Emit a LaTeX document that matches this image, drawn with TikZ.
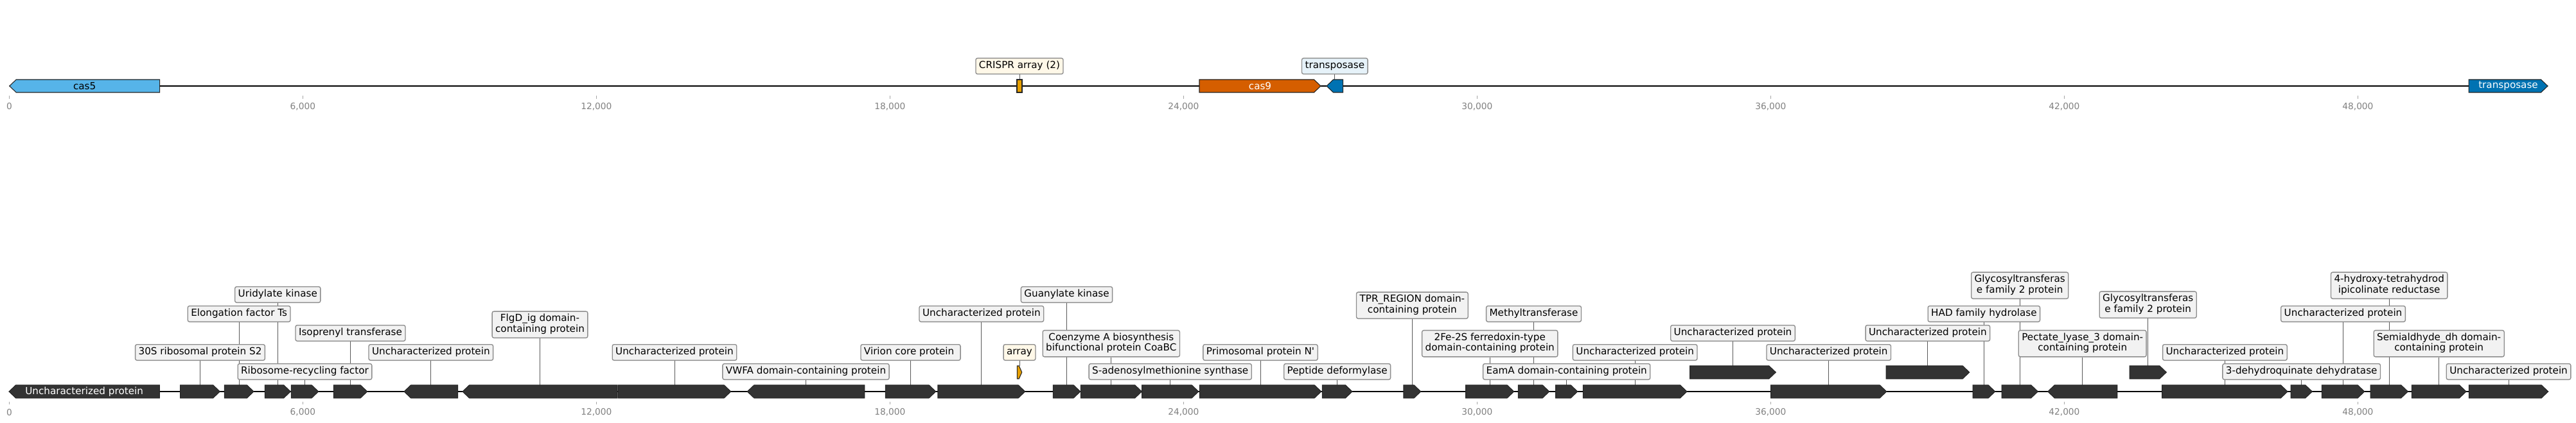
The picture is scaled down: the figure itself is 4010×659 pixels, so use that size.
\documentclass[tikz,border=0pt]{standalone}
\usepackage{fontspec}
\setmainfont{DejaVu Sans}
\usetikzlibrary{positioning}
\pgfdeclarelayer{bg}
\pgfsetlayers{bg,main}

\definecolor{genegray}{HTML}{333333}
\definecolor{boxgray}{HTML}{F2F2F2}
\definecolor{edgegray}{HTML}{8C8C8C}
\definecolor{casblue}{HTML}{56B4E9}
\definecolor{casred}{HTML}{D55E00}
\definecolor{tnpblue}{HTML}{0072B2}
\definecolor{crisprorange}{HTML}{E69F00}
\definecolor{crisprbox}{HTML}{FFF8E8}
\definecolor{tnpbox}{HTML}{E6F2F9}

% genes: [style] name, start, end, y
\newcommand{\fwdgene}[5][]{%
  \pgfmathsetmacro\tiplen{min(10.5,0.6*(#4-#3))}%
  \draw[gene path,#1] (#3,#5-10) -- (#4-\tiplen,#5-10) -- (#4,#5) -- (#4-\tiplen,#5+10) -- (#3,#5+10) -- cycle;
  \coordinate (#2) at ({(#3+#4)/2},#5-10);}
\newcommand{\revgene}[5][]{%
  \pgfmathsetmacro\tiplen{min(10.5,0.6*(#4-#3))}%
  \draw[gene path,#1] (#4,#5-10) -- (#3+\tiplen,#5-10) -- (#3,#5) -- (#3+\tiplen,#5+10) -- (#4,#5+10) -- cycle;
  \coordinate (#2) at ({(#3+#4)/2},#5-10);}

\begin{document}
\begin{tikzpicture}[x=0.75pt,y=-0.75pt,
  gene path/.style={fill=genegray,draw=black!85,line width=0.8pt},
  tag node/.style={draw=edgegray,fill=boxgray,rounded corners=2pt,line width=1pt,inner xsep=3.75pt,inner ysep=3pt,
    font=\fontsize{11.4}{12.5}\selectfont,execute at begin node=\strut,execute at end node=\strut},
  gene text/.style={font=\fontsize{11.4}{12.5}\selectfont,inner sep=0pt},
  leader line/.style={draw=black!65,line width=0.75pt},
  track/.style={line width=1.9pt},
  tick/.style={draw=black!35,line width=0.6pt},
  axis label/.style={text=black!50,font=\fontsize{10.3}{12}\selectfont,inner sep=0pt}]

 \useasboundingbox (0,0) rectangle (4010,659);

 \coordinate (a0) at (14.5,134);
 \coordinate (a1) at (3966,134);
 \coordinate (b0) at (14,610);
 \coordinate (b1) at (3966.7,610);
 \draw[track] (a0) -- (a1);
 \draw[track] (b0) -- (b1);

 \foreach \k/\lab in {0/0,1/{6,000},2/{12,000},3/{18,000},4/{24,000},5/{30,000},6/{36,000},7/{42,000},8/{48,000}} {
   \draw[tick] (14.4+457*\k,149.5) -- (14.4+457*\k,154);
   \node[axis label] (ta\k) at (14.4+457*\k,166) {\lab};
   \draw[tick] (14.4+457*\k,625.5) -- (14.4+457*\k,630);
   \node[axis label] (ba\k) at (14.4+457*\k,642) {\lab};
 }

 % top track
 \revgene[fill=casblue]{c1}{14.7}{248.7}{134}
 \draw[gene path,fill=crisprorange] (1583,124) rectangle (1591,144);
 \coordinate (c2) at (1587,124);
 \fwdgene[fill=casred]{c3}{1867}{2056}{134}
 \revgene[fill=tnpblue]{c4}{2065}{2090.6}{134}
 \fwdgene[fill=tnpblue]{c5}{3843}{3966}{134}
 \node[gene text] (n1) at (131.7,134) {cas5};
 \node[gene text,text=white] (n3) at (1961.5,134) {cas9};
 \node[gene text,text=white] (n5) at (3904.5,134) {transposase};
 \node[tag node,fill=crisprbox,above=6pt of c2] (tc2) {CRISPR array (2)};
 \node[tag node,fill=tnpbox,above=6pt of c4] (tc4) {transposase};

 % bottom track
 \revgene{g1}{14}{248.3}{610}
 \fwdgene{g2}{280.7}{342.3}{610}
 \fwdgene{g3}{349.3}{395}{610}
 \fwdgene{g4}{412.3}{452.3}{610}
 \fwdgene{g5}{453.3}{495.7}{610}
 \fwdgene{g6}{519.3}{571.7}{610}
 \revgene{g7}{629}{712.7}{610}
 \revgene{g8}{720}{961}{610}
 \fwdgene{g9}{962.3}{1137.7}{610}
 \revgene{g10}{1163.3}{1345.7}{610}
 \fwdgene{g11}{1378.3}{1456.7}{610}
 \fwdgene{g12}{1460}{1595.7}{610}
 \fwdgene[fill=crisprorange]{g13}{1583.3}{1590.7}{580}
 \fwdgene{g14}{1639.3}{1681.7}{610}
 \fwdgene{g15}{1682.3}{1777.3}{610}
 \fwdgene{g16}{1777.7}{1865.7}{610}
 \fwdgene{g17}{1867.3}{2056.7}{610}
 \fwdgene{g18}{2058.3}{2105}{610}
 \fwdgene{g19}{2185}{2211.7}{610}
 \fwdgene{g20}{2281.7}{2356.7}{610}
 \fwdgene{g21}{2363.3}{2411.7}{610}
 \fwdgene{g22}{2421.7}{2455.7}{610}
 \fwdgene{g23}{2464.3}{2626}{610}
 \fwdgene{g24}{2630.7}{2764.3}{580}
 \fwdgene{g25}{2756.7}{2936.7}{610}
 \fwdgene{g26}{2936}{3065.7}{580}
 \fwdgene{g27}{3071}{3105.7}{610}
 \fwdgene{g28}{3116}{3172.3}{610}
 \revgene{g29}{3187.7}{3295.7}{610}
 \fwdgene{g30}{3315}{3372.3}{580}
 \fwdgene{g31}{3365.7}{3561}{610}
 \fwdgene{g32}{3566}{3599.3}{610}
 \fwdgene{g33}{3614.3}{3680.7}{610}
 \fwdgene{g34}{3690}{3748.3}{610}
 \fwdgene{g35}{3754.3}{3839}{610}
 \fwdgene{g36}{3843.3}{3966.7}{610}
 \node[gene text,text=white] (m1) at (131.15,610) {Uncharacterized protein};

 \node[tag node,above=28.5pt of g2] (t2) {30S ribosomal protein S2\ };
 \node[tag node,above=73.5pt of g3] (t3) {Elongation factor Ts\ };
 \node[tag node,above=96pt of g4] (t4) {Uridylate kinase\ };
 \node[tag node,above=6pt of g5] (t5) {Ribosome-recycling factor\ };
 \node[tag node,above=51pt of g6] (t6) {Isoprenyl transferase\ };
 \node[tag node,above=28.5pt of g7] (t7) {Uncharacterized protein\ };
 \node[tag node,align=center,above=54.75pt of g8] (t8) {FlgD\_ig domain-\\containing protein};
 \node[tag node,above=28.5pt of g9] (t9) {Uncharacterized protein\ };
 \node[tag node,above=6pt of g10] (t10) {VWFA domain-containing protein};
 \node[tag node,above=28.5pt of g11] (t11) {Virion core protein\ \ };
 \node[tag node,above=73.5pt of g12] (t12) {Uncharacterized protein\ };
 \node[tag node,fill=crisprbox,above=6pt of g13] (t13) {array};
 \node[tag node,above=96pt of g14] (t14) {Guanylate kinase\ };
 \node[tag node,align=center,above=32.6pt of g15] (t15) {Coenzyme A biosynthesis\\bifunctional protein CoaBC};
 \node[tag node,above=6pt of g16] (t16) {S-adenosylmethionine synthase\ };
 \node[tag node,above=28.5pt of g17] (t17) {Primosomal protein N\textquotesingle\ };
 \node[tag node,above=6pt of g18] (t18) {Peptide deformylase\ };
 \node[tag node,align=center,above=77.25pt of g19] (t19) {TPR\_REGION domain-\\containing protein};
 \node[tag node,align=center,above=32.6pt of g20] (t20) {2Fe-2S ferredoxin-type\\domain-containing protein};
 \node[tag node,above=73.5pt of g21] (t21) {Methyltransferase\ };
 \node[tag node,above=6pt of g22] (t22) {EamA domain-containing protein};
 \node[tag node,above=28.5pt of g23] (t23) {Uncharacterized protein\ };
 \node[tag node,above=28.5pt of g24] (t24) {Uncharacterized protein\ };
 \node[tag node,above=28.5pt of g25] (t25) {Uncharacterized protein\ };
 \node[tag node,above=28.5pt of g26] (t26) {Uncharacterized protein\ };
 \node[tag node,above=73.5pt of g27] (t27) {HAD family hydrolase\ };
 \node[tag node,align=center,above=100.5pt of g28] (t28) {Glycosyltransferas\\e family 2 protein};
 \node[tag node,align=center,above=32.6pt of g29] (t29) {Pectate\_lyase\_3 domain-\\containing protein};
 \node[tag node,align=center,above=55.5pt of g30] (t30) {Glycosyltransferas\\e family 2 protein};
 \node[tag node,above=28.5pt of g31] (t31) {Uncharacterized protein\ };
 \node[tag node,above=6pt of g32] (t32) {3-dehydroquinate dehydratase\ };
 \node[tag node,above=73.5pt of g33] (t33) {Uncharacterized protein\ };
 \node[tag node,align=center,above=100.5pt of g34] (t34) {4-hydroxy-tetrahydrod\\ipicolinate reductase};
 \node[tag node,align=center,above=32.6pt of g35] (t35) {Semialdhyde\_dh domain-\\containing protein};
 \node[tag node,above=6pt of g36] (t36) {Uncharacterized protein\ };

 \begin{pgfonlayer}{bg}
 \path[leader line]
    (tc2) edge (c2)
    (tc4) edge (c4)
    (t2) edge (g2)   (t3) edge (g3)   (t4) edge (g4)   (t5) edge (g5)
    (t6) edge (g6)   (t7) edge (g7)   (t8) edge (g8)   (t9) edge (g9)
    (t10) edge (g10) (t11) edge (g11) (t12) edge (g12) (t13) edge (g13)
    (t14) edge (g14) (t15) edge (g15) (t16) edge (g16) (t17) edge (g17)
    (t18) edge (g18) (t19) edge (g19) (t20) edge (g20) (t21) edge (g21)
    (t22) edge (g22) (t23) edge (g23) (t24) edge (g24) (t25) edge (g25)
    (t26) edge (g26) (t27) edge (g27) (t28) edge (g28) (t29) edge (g29)
    (t30) edge (g30) (t31) edge (g31) (t32) edge (g32) (t33) edge (g33)
    (t34) edge (g34) (t35) edge (g35) (t36) edge (g36);
 \end{pgfonlayer}

\end{tikzpicture}
\end{document}
